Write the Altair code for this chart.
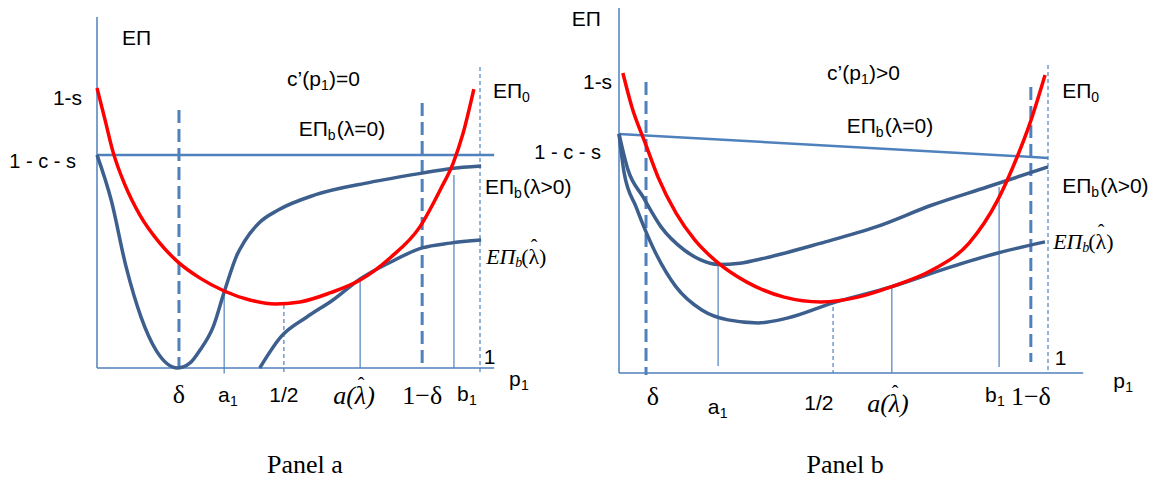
import altair as alt
import pandas as pd

# ------------------------------------------------------------------
# Data.  x = p1 (0..1), y = EΠ in units of (1-s)
# ------------------------------------------------------------------
# Panel a
A_RED_X = [0.0, 0.021, 0.042, 0.073, 0.112, 0.164, 0.211, 0.269, 0.332, 0.399, 0.465, 0.530, 0.608, 0.687, 0.765, 0.843, 0.896, 0.930, 0.956, 0.984]
A_RED_Y = [1.0, 0.886, 0.771, 0.654, 0.546, 0.446, 0.379, 0.321, 0.275, 0.243, 0.229, 0.236, 0.268, 0.314, 0.393, 0.504, 0.636, 0.732, 0.839, 0.996]
A_POS_X = [0.0, 0.037, 0.076, 0.115, 0.154, 0.211, 0.243, 0.269, 0.303, 0.332, 0.366, 0.384, 0.423, 0.473, 0.569, 0.713, 0.849, 0.922, 1.003]
A_POS_Y = [0.761, 0.600, 0.361, 0.182, 0.064, 0.0, 0.018, 0.064, 0.146, 0.271, 0.405, 0.450, 0.518, 0.564, 0.618, 0.663, 0.696, 0.712, 0.721]
A_HAT_X = [0.425, 0.480, 0.548, 0.616, 0.687, 0.762, 0.849, 0.922, 1.003]
A_HAT_Y = [0.0, 0.111, 0.182, 0.243, 0.318, 0.375, 0.429, 0.446, 0.457]
A_ZERO_X = [0.0, 1.037]
A_ZERO_Y = [0.761, 0.761]

# Panel b
B_RED_X = [0.009, 0.030, 0.061, 0.091, 0.133, 0.177, 0.231, 0.298, 0.385, 0.471, 0.557, 0.634, 0.730, 0.816, 0.883, 0.928, 0.958, 0.993]
B_RED_Y = [1.0, 0.887, 0.767, 0.653, 0.533, 0.443, 0.367, 0.303, 0.253, 0.237, 0.253, 0.287, 0.343, 0.433, 0.577, 0.720, 0.833, 0.993]
B_POS_X = [0.0, 0.021, 0.056, 0.098, 0.152, 0.189, 0.231, 0.282, 0.340, 0.471, 0.599, 0.730, 0.858, 1.0]
B_POS_Y = [0.797, 0.677, 0.587, 0.487, 0.410, 0.378, 0.362, 0.366, 0.383, 0.433, 0.487, 0.560, 0.620, 0.687]
B_HAT_X = [0.0, 0.012, 0.040, 0.082, 0.133, 0.193, 0.254, 0.324, 0.392, 0.497, 0.634, 0.772, 0.883, 0.993]
B_HAT_Y = [0.797, 0.667, 0.553, 0.410, 0.287, 0.210, 0.177, 0.167, 0.183, 0.233, 0.287, 0.353, 0.400, 0.437]
B_ZERO_X = [0.0, 1.0]
B_ZERO_Y = [0.797, 0.717]

# Marked points on the p1 axis
A_TICKS = {"delta": 0.214, "a1": 0.332, "half": 0.488, "ahat": 0.687, "omd": 0.849, "b1": 0.932}
B_TICKS = {"delta": 0.063, "a1": 0.231, "half": 0.499, "ahat": 0.636, "omd": 0.960, "b1": 0.886}

# ------------------------------------------------------------------
# Layout (page pixels): origin of each panel and pixels per unit
# ------------------------------------------------------------------
VIEW_L, VIEW_T, VIEW_R, VIEW_B = 8, 8, 1151, 483
GEOM = {
    "a": dict(ox=97, oy=368, ux=383, uy=280),
    "b": dict(ox=619, oy=373, ux=429, uy=300),
}

RED = "#FF0000"
DARK = "#3D5F8E"
LIGHT = "#4F81BD"

STYLES = {
    "sans": dict(font="Liberation Sans", fontSize=21),
    "sans20": dict(font="Liberation Sans", fontSize=20),
    "sub": dict(font="Liberation Sans", fontSize=14),
    "mathi": dict(font="Liberation Serif", fontSize=22, fontStyle="italic"),
    "mathsubi": dict(font="Liberation Serif", fontSize=14, fontStyle="italic"),
    "math": dict(font="Liberation Serif", fontSize=22),
    "hat": dict(font="Liberation Serif", fontSize=20),
    "serif": dict(font="Liberation Serif", fontSize=26),
    "serifi": dict(font="Liberation Serif", fontSize=26, fontStyle="italic"),
}


def scales(p):
    g = GEOM[p]
    xd = [(VIEW_L - g["ox"]) / g["ux"], (VIEW_R - g["ox"]) / g["ux"]]
    yd = [(g["oy"] - VIEW_B) / g["uy"], (g["oy"] - VIEW_T) / g["uy"]]
    return (alt.Scale(domain=xd, nice=False, zero=False),
            alt.Scale(domain=yd, nice=False, zero=False))


def curve(p, xs, ys, color, width, dash=None):
    xs_, ys_ = scales(p)
    df = pd.DataFrame({"x": xs, "y": ys, "i": range(len(xs))})
    kw = dict(color=color, strokeWidth=width, interpolate="monotone", clip=False)
    if dash:
        kw["strokeDash"] = dash
    return alt.Chart(df).mark_line(**kw).encode(
        x=alt.X("x:Q", scale=xs_, axis=None),
        y=alt.Y("y:Q", scale=ys_, axis=None),
        order="i:Q",
    )


def vrules(p, rows, color, width, dash=None):
    xs_, ys_ = scales(p)
    df = pd.DataFrame(rows, columns=["x", "y", "y2"])
    kw = dict(color=color, strokeWidth=width)
    if dash:
        kw["strokeDash"] = dash
    return alt.Chart(df).mark_rule(**kw).encode(
        x=alt.X("x:Q", scale=xs_, axis=None),
        y=alt.Y("y:Q", scale=ys_, axis=None),
        y2="y2:Q",
    )


def hrule(p, x0, x1, yv, color, width):
    xs_, ys_ = scales(p)
    df = pd.DataFrame({"x": [x0], "x2": [x1], "y": [yv]})
    return alt.Chart(df).mark_rule(color=color, strokeWidth=width).encode(
        x=alt.X("x:Q", scale=xs_, axis=None), x2="x2:Q",
        y=alt.Y("y:Q", scale=ys_, axis=None),
    )


def texts(p, labels):
    """labels: list of (x, y, align, [(text, style, dx_px, dy_px), ...])"""
    g = GEOM[p]
    xs_, ys_ = scales(p)
    groups = {}
    for x, y, align, pieces in labels:
        for txt, st, dx, dy in pieces:
            a = "center" if st == "hat" else align
            groups.setdefault((st, a), []).append(
                {"x": x + dx / g["ux"], "y": y - dy / g["uy"], "t": txt})
    layers = []
    for (st, align), rows in groups.items():
        layers.append(
            alt.Chart(pd.DataFrame(rows)).mark_text(
                align=align, baseline="middle", color="black", **STYLES[st]
            ).encode(
                x=alt.X("x:Q", scale=xs_, axis=None),
                y=alt.Y("y:Q", scale=ys_, axis=None),
                text="t:N",
            )
        )
    return layers


def ebl(tail):
    return [("EΠ", "sans", 0, 0), ("b", "sub", 29, 6), (tail, "sans", 38, 0)]


EB_HAT = [("EΠ", "mathi", 0, 0), ("b", "mathsubi", 29, 6), ("(λ)", "math", 35, 0), ("ˆ", "hat", 48, -9)]
A_HAT = [("a(λ)", "serifi", 0, 0), ("ˆ", "hat", 7, -10)]

# ------------------------------------------------------------------
# Panel a
# ------------------------------------------------------------------
T = A_TICKS
panel_a = alt.layer(
    vrules("a", [(0.0, 0.0, 1.254)], LIGHT, 1.5),
    hrule("a", 0.0, 1.037, 0.0, LIGHT, 1.5),
    vrules("a", [(1.0, 1.075, -0.025)], LIGHT, 1.2, [4, 3]),
    vrules("a", [(T["half"], 0.225, -0.02)], LIGHT, 1.2, [4, 3]),
    vrules("a", [(T["a1"], 0.271, -0.02), (T["ahat"], 0.318, 0.0), (T["b1"], 0.689, 0.0)], LIGHT, 1.2),
    vrules("a", [(T["delta"], 0.921, 0.0), (T["omd"], 0.946, 0.0)], LIGHT, 3, [13, 6]),
    curve("a", A_ZERO_X, A_ZERO_Y, LIGHT, 2.5),
    curve("a", A_POS_X, A_POS_Y, DARK, 3.5),
    curve("a", A_HAT_X, A_HAT_Y, DARK, 3.5),
    curve("a", A_RED_X, A_RED_Y, RED, 3.5),
    *texts("a", [
        (0.065, 1.175, "left", [("EΠ", "sans", 0, 0)]),
        (-0.039, 0.961, "right", [("1-s", "sans", 0, 0)]),
        (-0.055, 0.736, "right", [("1 - c - s", "sans20", 0, 0)]),
        (0.496, 1.029, "left", [("c’(p", "sans", 0, 0), ("1", "sub", 34, 6), (")=0", "sans", 42, 0)]),
        (1.034, 0.986, "left", [("EΠ", "sans", 0, 0), ("0", "sub", 29, 6)]),
        (0.527, 0.85, "left", ebl("(λ=0)")),
        (1.013, 0.643, "left", ebl("(λ>0)")),
        (1.016, 0.396, "left", EB_HAT),
        (1.010, 0.036, "left", [("1", "sans", 0, 0)]),
        (1.076, -0.043, "left", [("p", "sans", 0, 0), ("1", "sub", 12, 6)]),
        (T["delta"], -0.096, "center", [("δ", "serif", 0, 0)]),
        (0.316, -0.100, "left", [("a", "sans", 0, 0), ("1", "sub", 12, 6)]),
        (T["half"], -0.100, "center", [("1/2", "sans", 0, 0)]),
        (0.671, -0.100, "center", A_HAT),
        (T["omd"], -0.100, "center", [("1−δ", "serif", 0, 0)]),
        (0.940, -0.096, "left", [("b", "sans", 0, 0), ("1", "sub", 12, 6)]),
        (0.543, -0.346, "center", [("Panel a", "serif", 0, 0)]),
    ]),
)

# ------------------------------------------------------------------
# Panel b
# ------------------------------------------------------------------
T = B_TICKS
panel_b = alt.layer(
    vrules("b", [(0.0, 0.0, 1.243)], LIGHT, 1.5),
    hrule("b", 0.0, 1.082, 0.0, LIGHT, 1.5),
    vrules("b", [(1.0, 1.027, 0.0)], LIGHT, 1.2, [4, 3]),
    vrules("b", [(T["half"], 0.243, 0.0)], LIGHT, 1.2, [4, 3]),
    vrules("b", [(T["a1"], 0.367, 0.023), (T["ahat"], 0.287, 0.0), (T["b1"], 0.62, 0.02)], LIGHT, 1.2),
    vrules("b", [(T["delta"], 0.97, -0.007), (T["omd"], 0.953, 0.037)], LIGHT, 3, [13, 6]),
    curve("b", B_ZERO_X, B_ZERO_Y, LIGHT, 2.5),
    curve("b", B_POS_X, B_POS_Y, DARK, 3.5),
    curve("b", B_HAT_X, B_HAT_Y, DARK, 3.5),
    curve("b", B_RED_X, B_RED_Y, RED, 3.5),
    *texts("b", [
        (-0.110, 1.177, "left", [("EΠ", "sans", 0, 0)]),
        (-0.016, 0.967, "right", [("1-s", "sans", 0, 0)]),
        (-0.042, 0.733, "right", [("1 - c - s", "sans20", 0, 0)]),
        (0.485, 0.997, "left", [("c’(p", "sans", 0, 0), ("1", "sub", 34, 6), (")>0", "sans", 42, 0)]),
        (0.531, 0.82, "left", ebl("(λ=0)")),
        (1.033, 0.937, "left", [("EΠ", "sans", 0, 0), ("0", "sub", 29, 6)]),
        (1.033, 0.62, "left", ebl("(λ>0)")),
        (1.012, 0.437, "left", EB_HAT),
        (1.016, 0.047, "left", [("1", "sans", 0, 0)]),
        (1.152, -0.030, "left", [("p", "sans", 0, 0), ("1", "sub", 12, 6)]),
        (0.079, -0.080, "center", [("δ", "serif", 0, 0)]),
        (0.207, -0.117, "left", [("a", "sans", 0, 0), ("1", "sub", 12, 6)]),
        (0.466, -0.103, "center", [("1/2", "sans", 0, 0)]),
        (0.627, -0.103, "center", A_HAT),
        (0.853, -0.077, "left", [("b", "sans", 0, 0), ("1", "sub", 12, 6)]),
        (0.960, -0.080, "center", [("1−δ", "serif", 0, 0)]),
        (0.527, -0.307, "center", [("Panel b", "serif", 0, 0)]),
    ]),
)

chart = alt.layer(panel_a, panel_b).resolve_scale(
    x="independent", y="independent"
).properties(
    width=VIEW_R - VIEW_L,
    height=VIEW_B - VIEW_T,
    padding=0,
    autosize=alt.AutoSizeParams(type="none"),
    background="white",
).configure_view(stroke=None)

chart.save("out.html", embed_options={"renderer": "svg", "actions": False})
